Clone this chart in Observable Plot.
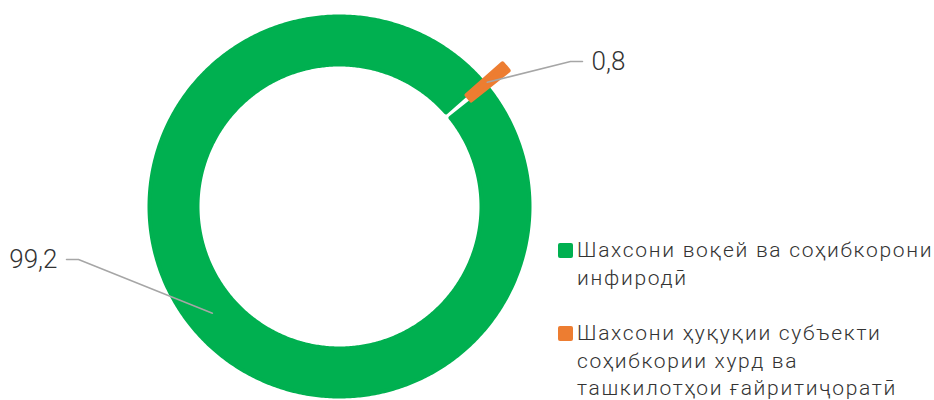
<!DOCTYPE html>
<html>
<head>
<meta charset="utf-8">
<script src="https://cdn.jsdelivr.net/npm/d3@7"></script>
<script src="https://cdn.jsdelivr.net/npm/@observablehq/plot@0.6"></script>
<style>
  body { margin: 0; background: #fff; }
  #wrap { position: relative; width: 934px; height: 400px; overflow: hidden; font-family: Roboto, "Noto Sans", sans-serif; }
  #legend { position: absolute; left: 558px; top: 237px; }
  .item { display: flex; align-items: flex-start; margin-bottom: 28px; }
  .sw { width: 15px; height: 15px; border-radius: 2px; margin-top: 6px; margin-right: 4px; flex: none; }
  .txt { font-size: 21px; line-height: 27.5px; color: #333; font-weight: 300; letter-spacing: 1.7px; white-space: pre-line; }
</style>
</head>
<body>
<div id="wrap"><div id="chart"></div><div id="legend"></div></div>
<script>
// ---- data ----
const categories = [
  "Шахсони воқей ва соҳибкорони\nинфиродӣ",
  "Шахсони ҳуқуқии субъекти\nсоҳибкории хурд ва\nташкилотҳои ғайритиҷоратӣ"
];
const values = [99.2, 0.8];
const colors = ["#00B050", "#ED7D31"];

// ---- layout constants ----
const W = 934, H = 400;
const cx = 339, cy = 206;           // donut centre in pixels
const R = 190, r0 = 142;            // outer / inner radius (stroke adds 2px each side)
const startDeg = 51.4;              // first slice angle
const explode = [0, 27];            // slice offset outward
const labelElbow = [[-261, -53], [231, 145]]; // label elbow offsets from centre
const labelDir = [-1, 1];

const pie = d3.pie().sort(null).startAngle(startDeg * Math.PI / 180).endAngle(startDeg * Math.PI / 180 + 2 * Math.PI);
const arcs = pie(values);

const polys = [];
const leaders = [];
const labels = [];
arcs.forEach((a, i) => {
  const mid = (a.startAngle + a.endAngle) / 2;
  const ox = explode[i] * Math.sin(mid), oy = explode[i] * Math.cos(mid);
  const n = Math.max(4, Math.ceil((a.endAngle - a.startAngle) / 0.01));
  const pts = [];
  for (let k = 0; k <= n; k++) {
    const t = a.startAngle + (a.endAngle - a.startAngle) * k / n;
    pts.push({x: ox + R * Math.sin(t), y: oy + R * Math.cos(t)});
  }
  for (let k = n; k >= 0; k--) {
    const t = a.startAngle + (a.endAngle - a.startAngle) * k / n;
    pts.push({x: ox + r0 * Math.sin(t), y: oy + r0 * Math.cos(t)});
  }
  pts.forEach(p => polys.push({...p, key: categories[i]}));
  const rm = (R + r0) / 2;
  const ax = ox + rm * Math.sin(mid), ay = oy + rm * Math.cos(mid);
  const [ex, ey] = labelElbow[i];
  leaders.push({x: ax, y: ay, key: i}, {x: ex, y: ey, key: i}, {x: ex + labelDir[i] * 12, y: ey, key: i});
  labels.push({x: ex + labelDir[i] * 21, y: ey, text: values[i].toFixed(1).replace(".", ","), anchor: labelDir[i] < 0 ? "end" : "start"});
});

const chart = Plot.plot({
  width: W, height: H,
  margin: 0,
  x: {domain: [-cx, W - cx], axis: null},
  y: {domain: [cy - H, cy], axis: null},
  color: {domain: categories, range: colors},
  style: {fontFamily: "Roboto, 'Noto Sans', sans-serif", background: "white"},
  marks: [
    Plot.line(polys, {x: "x", y: "y", z: "key", fill: "key", stroke: "key", strokeWidth: 4, strokeLinejoin: "round", curve: "linear-closed"}),
    Plot.line(leaders, {x: "x", y: "y", z: "key", stroke: "#A6A6A6", strokeWidth: 1.5}),
    Plot.text(labels.filter(d => d.anchor === "end"), {x: "x", y: "y", text: "text", textAnchor: "end", fontSize: 26, fontWeight: 300, fill: "#333"}),
    Plot.text(labels.filter(d => d.anchor === "start"), {x: "x", y: "y", text: "text", textAnchor: "start", fontSize: 26, fontWeight: 300, fill: "#333"})
  ]
});
document.getElementById("chart").appendChild(chart);

const legend = document.getElementById("legend");
categories.forEach((c, i) => {
  const it = document.createElement("div");
  it.className = "item";
  const sw = document.createElement("div");
  sw.className = "sw";
  sw.style.background = colors[i];
  const tx = document.createElement("div");
  tx.className = "txt";
  tx.textContent = c;
  it.appendChild(sw); it.appendChild(tx);
  legend.appendChild(it);
});
</script>
</body>
</html>
